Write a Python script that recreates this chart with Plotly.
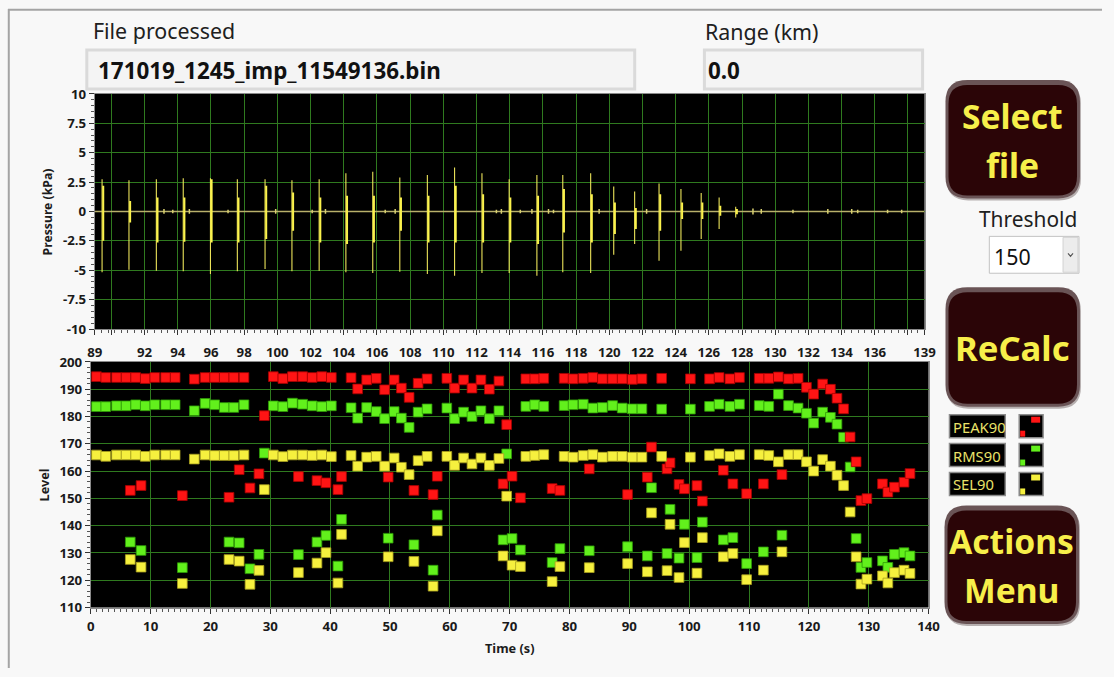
import plotly.graph_objects as go

# Figure size in CSS pixels. The page body keeps its 8px margin and the captured
# page (figure + margins) is fitted back into the 1114x677 window, so layout
# positions below are given in window pixels and converted with SX/SY and OFF.
W, H = 1114, 677
OFF = 8
SX = (W + 2 * OFF) / W
SY = (H + 2 * OFF) / H

# ---------------- pressure waveform (top graph) ----------------
pulse_t = [89.44, 91.06, 92.71, 94.33, 95.97, 97.59, 99.26, 100.88, 102.52, 104.13,
           105.75, 107.38, 109.04, 110.68, 112.33, 113.97, 115.64, 117.2, 118.88, 120.27,
           121.53, 123.0, 124.32, 125.54, 126.62, 127.62]
pulse_max = [2.74, 2.66, 2.74, 2.83, 2.83, 2.74, 2.74, 2.66, 2.74, 3.25, 3.37, 2.89, 3.11,
             3.73, 3.25, 2.74, 3.11, 3.11, 3.25, 2.12, 1.7, 2.38, 1.9, 1.56, 1.19, 0.4]
pulse_min = [-5.18, -4.95, -5.04, -5.09, -5.32, -5.09, -4.89, -5.09, -5.04, -5.18, -5.23,
             -5.12, -5.32, -5.46, -5.23, -5.23, -5.46, -5.18, -5.23, -3.68, -2.77, -4.19,
             -3.34, -2.35, -1.5, -0.51]
core_hi = [2.18, 0.9, 1.19, 1.19, 2.74, 1.19, 2.18, 1.61, 1.19, 1.33, 1.33, 1.19, 1.33,
           2.18, 1.47, 1.19, 1.33, 1.9, 1.47, 0.76, 0.3, 1.47, 0.76, 0.76, 0.48, 0.2]
core_lo = [-2.49, -0.93, -2.63, -2.57, -2.63, -2.63, -2.35, -1.64, -2.63, -2.77, -2.63,
           -1.64, -2.63, -2.63, -2.63, -2.63, -2.77, -1.78, -2.63, -1.92, -1.5, -1.64,
           -0.65, -0.65, -0.37, -0.23]
blip_t = [93.17, 93.7, 94.7, 97.03, 99.9, 102.1, 102.9, 106.5, 107.1, 113.2, 113.5,
          114.64, 115.34, 116.34, 116.64, 119.39, 122.25, 128.66, 129.16, 131.07,
          133.17, 134.61, 134.97, 136.77, 137.62]
blip_amp = [0.2, 0.15, 0.2, 0.15, 0.2, 0.15, 0.2, 0.15, 0.2, 0.15, 0.2,
            0.15, 0.2, 0.2, 0.15, 0.2, 0.2, 0.25, 0.2, 0.15, 0.2, 0.2, 0.15, 0.15, 0.15]

top_ticks = [89, 90] + list(range(92, 137, 2)) + [138, 139]
top_ticktext = ["89", ""] + [str(v) for v in range(92, 137, 2)] + ["", "139"]
p_ticks = [-10, -7.5, -5, -2.5, 0, 2.5, 5, 7.5, 10]
p_ticktext = ["-10", "-7.5", "-5", "-2.5", "0", "2.5", "5", "7.5", "10"]

# ---------------- per-shot levels (bottom graph) ----------------
t_shot = [0.95, 2.5, 4.3, 5.9, 7.5, 9.1, 10.7, 12.5, 14.1, 17.3, 19.1, 20.7, 22.3, 23.9,
          25.6, 29.0, 30.5, 32.1, 33.7, 35.4, 37.0, 38.6, 40.2, 43.5, 44.6, 46.1, 47.7,
          49.1, 50.7, 51.9, 53.2, 54.7, 56.2, 59.5, 60.8, 62.3, 63.7, 65.2, 66.6, 68.2,
          69.5, 72.7, 74.2, 75.7, 79.1, 80.6, 82.3, 83.9, 85.5, 87.2, 88.8, 90.5, 92.1,
          95.4, 100.2, 103.4, 105.0, 106.8, 108.4, 111.7, 113.3, 114.9, 116.6, 118.2,
          119.6, 120.8, 122.3, 123.6, 124.7, 125.8, 126.9, 127.9, 128.7, 129.7, 132.3,
          133.2, 134.3, 135.9, 136.9,
          6.6, 8.4, 15.3, 23.1, 24.8, 26.6, 28.1, 34.7, 37.8, 39.3, 41.3, 41.9, 49.7,
          54.0, 57.2, 57.9, 68.9, 70.4, 71.8, 77.1, 78.4, 83.3, 89.7, 93.0, 93.7, 96.3,
          96.8, 98.3, 99.2, 101.3, 102.2, 105.7, 107.3, 109.6, 112.4, 115.5]
peak90 = [194.6, 194.3, 194.3, 194.3, 194.3, 193.9, 194.3, 194.3, 194.3, 193.7, 194.3,
          194.3, 194.3, 194.3, 194.3, 180.3, 194.6, 193.9, 194.6, 194.6, 194.3, 194.6,
          194.3, 194.2, 190.1, 193.4, 194.0, 189.8, 193.4, 190.4, 187.0, 192.2, 193.8,
          194.0, 190.4, 193.4, 190.4, 193.4, 190.0, 193.0, 177.0, 193.8, 193.8, 194.0,
          194.0, 193.8, 194.0, 194.3, 193.8, 193.8, 193.8, 193.6, 193.8, 194.0, 193.8,
          193.8, 194.3, 193.8, 194.3, 194.0, 194.0, 194.5, 193.8, 194.0, 190.7, 188.2,
          191.9, 190.0, 186.7, 182.8, 172.5, 163.4, 149.2, 149.9, 155.3, 152.3, 154.1,
          155.9, 159.1,
          152.9, 154.7, 151.0, 150.4, 160.5, 153.8, 159.0, 158.0, 156.5, 155.7, 153.2,
          158.0, 157.8, 152.9, 151.4, 158.1, 155.3, 158.1, 150.2, 153.6, 152.9, 160.8,
          151.4, 157.8, 168.8, 160.8, 163.0, 155.1, 153.5, 154.7, 149.0, 160.3, 155.3,
          151.7, 155.3, 158.7]
rms90 = [183.6, 183.6, 183.9, 183.9, 184.3, 183.9, 184.3, 184.3, 184.3, 182.1, 184.8,
         184.3, 183.3, 183.3, 184.3, 166.6, 183.9, 183.6, 184.9, 184.5, 183.9, 183.6,
         183.9, 183.2, 179.4, 183.3, 181.8, 179.2, 181.8, 179.4, 176.0, 181.6, 182.8,
         183.1, 179.2, 181.6, 180.0, 182.1, 179.2, 182.1, 166.3, 183.7, 184.3, 183.7,
         184.0, 184.3, 184.5, 183.1, 183.3, 184.0, 183.1, 182.8, 182.8, 182.7, 182.7,
         183.7, 184.5, 183.7, 184.5, 184.0, 183.7, 188.2, 184.0, 183.1, 181.2, 177.6,
         181.6, 179.7, 177.2, 172.4, 161.5, 135.3, 124.7, 126.5, 127.1, 124.7, 129.5,
         130.1, 128.9,
         134.0, 130.9, 124.6, 134.0, 133.7, 124.2, 129.5, 129.4, 134.0, 136.4, 125.2,
         142.3, 135.4, 133.0, 123.7, 143.9, 134.8, 135.3, 131.1, 126.5, 131.6, 130.8,
         132.3, 128.9, 153.9, 129.8, 146.0, 128.1, 140.5, 128.3, 141.3, 134.8, 135.6,
         126.1, 130.4, 136.5]
sel90 = [165.9, 165.4, 165.9, 165.9, 165.9, 165.4, 165.9, 165.9, 165.9, 164.4, 165.9,
         165.7, 165.7, 165.7, 165.9, 153.2, 165.9, 165.3, 165.9, 165.9, 165.7, 165.9,
         165.3, 165.7, 161.8, 165.1, 165.4, 161.8, 164.8, 161.4, 158.7, 163.8, 165.4,
         165.4, 162.1, 164.8, 162.6, 164.8, 162.1, 164.6, 150.8, 165.4, 165.7, 166.0,
         165.4, 165.1, 165.7, 166.0, 165.1, 165.4, 165.4, 165.1, 165.1, 165.4, 165.1,
         165.7, 166.3, 165.4, 166.0, 166.0, 165.7, 163.4, 166.0, 166.0, 163.4, 160.0,
         164.2, 161.8, 158.5, 154.7, 145.0, 128.6, 118.6, 120.4, 121.6, 119.0, 122.8,
         123.7, 122.5,
         127.6, 124.8, 118.8, 127.6, 127.0, 118.5, 123.6, 122.8, 126.3, 130.1, 119.0,
         136.8, 128.6, 126.9, 117.8, 138.1, 128.9, 125.5, 125.0, 119.5, 125.0, 124.6,
         126.1, 123.1, 144.7, 123.5, 140.5, 121.0, 133.8, 122.6, 135.6, 128.6, 129.8,
         120.2, 123.7, 130.4]

series_names = ["PEAK90", "RMS90", "SEL90"]
series_colors = {"PEAK90": "#ff1414", "RMS90": "#62f01c", "SEL90": "#f6f03e"}
series_edges = {"PEAK90": "#a80000", "RMS90": "#2f9a08", "SEL90": "#a8a020"}

FS = (SX + SY) / 2  # font / marker size factor


# ---------------- helpers for panel furniture (window pixel -> paper) ----------------
def fx(x):
    return (x * SX - OFF) / W


def fy(y):
    return 1 - (y * SY - OFF) / H


def rrect_path(x0, y0, x1, y1, r):
    return (f"M {fx(x0 + r)},{fy(y0)} L {fx(x1 - r)},{fy(y0)} "
            f"Q {fx(x1)},{fy(y0)} {fx(x1)},{fy(y0 + r)} L {fx(x1)},{fy(y1 - r)} "
            f"Q {fx(x1)},{fy(y1)} {fx(x1 - r)},{fy(y1)} L {fx(x0 + r)},{fy(y1)} "
            f"Q {fx(x0)},{fy(y1)} {fx(x0)},{fy(y1 - r)} L {fx(x0)},{fy(y0 + r)} "
            f"Q {fx(x0)},{fy(y0)} {fx(x0 + r)},{fy(y0)} Z")


shapes = []
annotations = []


def rect(x0, y0, x1, y1, fill, line="rgba(0,0,0,0)", lw=1, layer="above"):
    shapes.append(dict(type="rect", xref="paper", yref="paper", layer=layer,
                       x0=fx(x0), x1=fx(x1), y0=fy(y1), y1=fy(y0),
                       fillcolor=fill, line=dict(color=line, width=lw)))


def text(x, y, s, size, color="#1c1c1c", bold=False, anchor="left", angle=0,
         family="Noto Sans"):
    annotations.append(dict(x=fx(x), y=fy(y), xref="paper", yref="paper", text=s,
                            showarrow=False, xanchor=anchor, yanchor="middle",
                            textangle=angle,
                            font=dict(size=size * FS, color=color, family=family,
                                      weight="bold" if bold else "normal")))


def button(x0, y0, x1, y1, lines, size):
    r = 22
    shapes.append(dict(type="path", xref="paper", yref="paper", layer="above",
                       path=rrect_path(x0 + 1, y0 + 2, x1 + 1, y1 + 2, r),
                       fillcolor="rgba(60,40,40,0.35)", line=dict(width=0)))
    shapes.append(dict(type="path", xref="paper", yref="paper", layer="above",
                       path=rrect_path(x0, y0, x1, y1, r),
                       fillcolor="#6a5456", line=dict(width=0)))
    shapes.append(dict(type="path", xref="paper", yref="paper", layer="above",
                       path=rrect_path(x0 + 3, y0 + 5, x1 - 3, y1 - 3, r - 3),
                       fillcolor="#2b0507", line=dict(width=0)))
    cx = (x0 + x1) / 2
    n = len(lines)
    cy = (y0 + y1) / 2 + 1
    step = 49
    for i, s in enumerate(lines):
        yy = cy + (i - (n - 1) / 2) * step
        text(cx, yy, s, size, color="#f7ef4a", bold=True, anchor="center")


# window frame: grey edge on top and left of the panel
shapes.append(dict(type="line", xref="paper", yref="paper", layer="above",
                   x0=0, x1=1, y0=1 - 0.8 / H, y1=1 - 0.8 / H,
                   line=dict(color="#a4a4a4", width=2)))
shapes.append(dict(type="line", xref="paper", yref="paper", layer="above",
                   x0=0.8 / W, x1=0.8 / W, y0=0, y1=1,
                   line=dict(color="#a4a4a4", width=2)))

# file / range indicators
text(91, 29, "File processed", 21, color="#202020")
rect(87, 49, 637, 88, "#f4f4f4", line="#dadada", lw=3)
text(96, 70, "171019_1245_imp_11549136.bin", 22, color="#111111", bold=True)
text(706, 30, "Range (km)", 21, color="#202020")
rect(707, 49, 926, 88, "#f4f4f4", line="#dadada", lw=3)
text(709, 70, "0.0", 22, color="#111111", bold=True)

# buttons
button(949, 79, 1084, 198, ["Select", "file"], 33)
button(949, 287, 1084, 407, ["ReCalc"], 34)
button(948, 506, 1083, 625, ["Actions", "Menu"], 33)

# threshold selector
text(1032, 219, "Threshold", 20.5, color="#202020", anchor="center")
rect(993, 236, 1083, 273, "#ffffff", line="#c2c2c2", lw=1)
rect(1067, 237, 1082, 272, "#ececec", line="#d2d2d2", lw=1)
shapes.append(dict(type="path", xref="paper", yref="paper", layer="above",
                   path=f"M {fx(1072)},{fy(253)} L {fx(1074.5)},{fy(256)} L {fx(1077)},{fy(253)}",
                   line=dict(color="#555555", width=1.2)))
text(996, 256, "150", 21, color="#111111")

# plot legend
for i, name in enumerate(series_names):
    oy = 29 * i
    rect(953, 415 + oy, 1009, 438 + oy, "#000000", line="#8c8c8c", lw=1.5)
    text(955, 427 + oy, name, 14.5, color="#ebe36a")
    rect(1023, 415 + oy, 1047, 438 + oy, "#000000", line="#8c8c8c", lw=1.5)
    rect(1035, 417 + oy, 1044, 423 + oy, series_colors[name])
    rect(1024, 431 + oy, 1029, 437 + oy, series_colors[name])

# axis titles
text(47, 211, "Pressure (kPa)", 12, color="#1c1c1c", bold=True, anchor="center", angle=-90)
text(45, 485, "Level", 12.5, color="#1c1c1c", bold=True, anchor="center", angle=-90)
text(511, 649, "Time (s)", 12.5, color="#1c1c1c", bold=True, anchor="center")

# ---------------- traces ----------------
fig = go.Figure()

wave_col = "#ece45a"
fig.add_trace(go.Scatter(x=[89, 139], y=[0, 0], mode="lines",
                         line=dict(color="#b8b06a", width=1.6),
                         hoverinfo="skip", showlegend=False, xaxis="x", yaxis="y"))
bx, by = [], []
for t, a in zip(blip_t, blip_amp):
    bx += [t, t, None]
    by += [a, -a, None]
fig.add_trace(go.Scatter(x=bx, y=by, mode="lines", line=dict(color="#d8d070", width=1.5),
                         hoverinfo="skip", showlegend=False, xaxis="x", yaxis="y"))
sx, sy = [], []
for t, hi, lo in zip(pulse_t, pulse_max, pulse_min):
    sx += [t, t, None]
    sy += [hi, lo, None]
fig.add_trace(go.Scatter(x=sx, y=sy, mode="lines", line=dict(color=wave_col, width=1.1),
                         showlegend=False, xaxis="x", yaxis="y"))
cxs, cys = [], []
for t, hi, lo in zip(pulse_t, core_hi, core_lo):
    cxs += [t + 0.07, t + 0.07, None]
    cys += [hi, lo, None]
fig.add_trace(go.Scatter(x=cxs, y=cys, mode="lines", line=dict(color="#fbf24c", width=2),
                         showlegend=False, xaxis="x", yaxis="y"))

level_data = {"PEAK90": peak90, "RMS90": rms90, "SEL90": sel90}
for name in ["RMS90", "PEAK90", "SEL90"]:
    fig.add_trace(go.Scatter(
        x=t_shot, y=level_data[name], mode="markers", name=name, showlegend=False,
        marker=dict(symbol="square", size=9.5 * FS, color=series_colors[name],
                    line=dict(color=series_edges[name], width=0.8)),
        xaxis="x2", yaxis="y2"))

tick_font = dict(family="Noto Sans", size=13 * FS, color="#1a1a1a", weight="bold")
grid_col = "#2f7a1f"

fig.update_layout(
    width=W, height=H, margin=dict(l=0, r=0, t=0, b=0),
    paper_bgcolor="#f8f8f8", plot_bgcolor="#000000", showlegend=False,
    shapes=shapes, annotations=annotations,
    xaxis=dict(domain=[fx(95), fx(928)], range=[89, 139], anchor="y",
               tickmode="array", tickvals=top_ticks, ticktext=top_ticktext,
               showgrid=True, gridcolor=grid_col, gridwidth=1, zeroline=False,
               ticks="outside", ticklen=5, tickcolor="#333333", tickfont=tick_font,
               ticklabelstandoff=6,
               showline=True, linecolor="#8a8a8a", linewidth=1, mirror=True,
               minor=dict(tick0=89, dtick=0.4, ticks="outside", ticklen=3,
                          tickcolor="#555555", showgrid=False)),
    yaxis=dict(domain=[fy(329), fy(93)], range=[-10, 10], anchor="x",
               tickmode="array", tickvals=p_ticks, ticktext=p_ticktext,
               showgrid=True, gridcolor=grid_col, gridwidth=1, zeroline=False,
               ticks="outside", ticklen=5, tickcolor="#333333", tickfont=tick_font,
               showline=True, linecolor="#8a8a8a", linewidth=1, mirror=True,
               minor=dict(tick0=0, dtick=0.5, ticks="outside", ticklen=3,
                          tickcolor="#555555", showgrid=False)),
    xaxis2=dict(domain=[fx(91), fx(932)], range=[0, 140], anchor="y2",
                tickmode="linear", tick0=0, dtick=10,
                showgrid=True, gridcolor=grid_col, gridwidth=1, zeroline=False,
                ticks="outside", ticklen=5, tickcolor="#333333", tickfont=tick_font,
                ticklabelstandoff=2,
                showline=True, linecolor="#8a8a8a", linewidth=1, mirror=True,
                minor=dict(tick0=0, dtick=1, ticks="outside", ticklen=3,
                           tickcolor="#555555", showgrid=False)),
    yaxis2=dict(domain=[fy(608.5), fy(362)], range=[110, 200], anchor="x2",
                tickmode="linear", tick0=110, dtick=10,
                showgrid=True, gridcolor=grid_col, gridwidth=1, zeroline=False,
                ticks="outside", ticklen=5, tickcolor="#333333", tickfont=tick_font,
                showline=True, linecolor="#8a8a8a", linewidth=1, mirror=True,
                minor=dict(tick0=110, dtick=2, ticks="outside", ticklen=3,
                           tickcolor="#555555", showgrid=False)),
)

fig.write_html("out.html", config={"displayModeBar": False})
